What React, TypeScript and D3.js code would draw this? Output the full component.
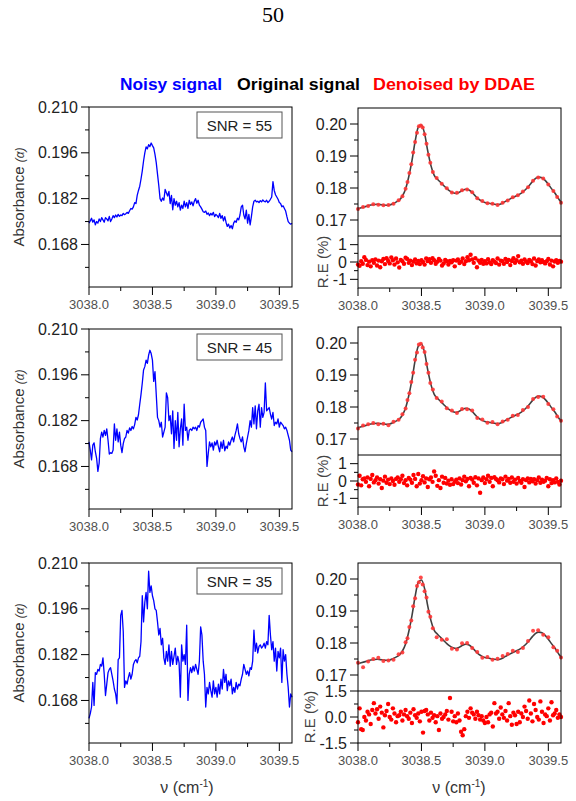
import React from "react";
import * as d3 from "d3";

const FONT = "'Liberation Sans', Arial, Helvetica, sans-serif";

// shared wavenumber axis
const nuRange = [3038.0, 3039.6];
const nuTicks = [3038.0, 3038.5, 3039.0, 3039.5];
const nuMinor = [3038.25, 3038.75, 3039.25];

// left column (noisy signal)
const absDomain = [0.155, 0.21];
const absTicks = [0.168, 0.182, 0.196, 0.21];
const absMinor = [0.161, 0.175, 0.189, 0.203];

// right column (original + denoised, relative error)
const fitDomain = [0.165, 0.205];
const fitTicks = [0.17, 0.18, 0.19, 0.2];
const fitMinor = [0.175, 0.185, 0.195];
const reDomains = [[-1.5, 1.5], [-1.5, 1.5], [-1.5, 1.5]];
const reTicks = [[-1, 0, 1], [-1, 0, 1], [-1.5, 0, 1.5]];
const reMinor = [[-0.5, 0.5], [-0.5, 0.5], [-0.75, 0.75]];
const reFormat = ["d", "d", ".1f"];

const snrLabels = ["SNR = 55", "SNR = 45", "SNR = 35"];
const legendNames = ["Noisy signal", "Original signal", "Denoised by DDAE"];
const legendColors = ["#0000ff", "#000000", "#ff0000"];

// noisy absorbance, sampled every 0.01 cm-1
const noisy55 = [
  0.1745, 0.1752, 0.176, 0.1748, 0.1755, 0.174, 0.175, 0.1745, 0.1758, 0.175, 0.1762,
  0.1755, 0.1748, 0.1762, 0.1758, 0.1752, 0.1766, 0.175, 0.1758, 0.1768, 0.1762,
  0.177, 0.1764, 0.1772, 0.1766, 0.177, 0.1768, 0.1775, 0.1771, 0.1774, 0.1778,
  0.1775, 0.1783, 0.179, 0.1788, 0.1795, 0.1808, 0.1805, 0.183, 0.1845, 0.1858,
  0.188, 0.1905, 0.1935, 0.196, 0.1978, 0.1972, 0.1985, 0.1979, 0.199, 0.1982,
  0.1975, 0.1955, 0.193, 0.1895, 0.186, 0.182, 0.1812, 0.1822, 0.1815, 0.1848,
  0.1838, 0.1828, 0.1842, 0.1805, 0.183, 0.1786, 0.182, 0.18, 0.1812, 0.1795,
  0.1808, 0.1785, 0.18, 0.179, 0.1812, 0.1795, 0.1808, 0.179, 0.1815, 0.1802,
  0.181, 0.1798, 0.1812, 0.182, 0.1806, 0.1815, 0.18, 0.1795, 0.1788, 0.178,
  0.1778, 0.1782, 0.1772, 0.1776, 0.1768, 0.1775, 0.177, 0.1778, 0.1765, 0.1772,
  0.1768, 0.1762, 0.1775, 0.176, 0.1768, 0.1752, 0.1765, 0.1748, 0.1735, 0.1742,
  0.173, 0.1738, 0.1728, 0.1745, 0.1752, 0.1748, 0.176, 0.1755, 0.177, 0.1795,
  0.18, 0.177, 0.1758, 0.1785, 0.1745, 0.1772, 0.174, 0.1765, 0.1795, 0.1812,
  0.1815, 0.181, 0.1812, 0.1808, 0.1814, 0.181, 0.1816, 0.1812, 0.181, 0.1815,
  0.1808, 0.1812, 0.1818, 0.1825, 0.1872, 0.1845, 0.1832, 0.1825, 0.1818, 0.1808,
  0.1805, 0.1795, 0.1798, 0.179, 0.1782, 0.1765, 0.175, 0.1745, 0.1742, 0.1745,
];

const noisy45 = [
  0.1755, 0.173, 0.17, 0.1745, 0.1752, 0.1725, 0.1705, 0.1665, 0.169, 0.1765, 0.1785,
  0.177, 0.179, 0.1775, 0.1795, 0.176, 0.1718, 0.1722, 0.172, 0.173, 0.181,
  0.176, 0.1795, 0.1755, 0.1785, 0.1745, 0.1722, 0.175, 0.1765, 0.177, 0.179,
  0.1782, 0.1798, 0.179, 0.1802, 0.1795, 0.1808, 0.183, 0.1822, 0.1838, 0.187,
  0.19, 0.1935, 0.1975, 0.1985, 0.2005, 0.1995, 0.202, 0.2035, 0.2025, 0.2005,
  0.194, 0.197, 0.19, 0.183, 0.182, 0.18, 0.1815, 0.177, 0.1785, 0.18,
  0.1905, 0.189, 0.182, 0.1835, 0.178, 0.185, 0.1735, 0.182, 0.176, 0.1845,
  0.174, 0.1795, 0.1825, 0.1745, 0.187, 0.179, 0.18, 0.176, 0.179, 0.1795,
  0.179, 0.18, 0.1795, 0.18, 0.179, 0.1805, 0.18, 0.1815, 0.182, 0.1825,
  0.18, 0.179, 0.168, 0.172, 0.1755, 0.174, 0.1752, 0.173, 0.1755, 0.1745,
  0.176, 0.174, 0.1725, 0.1755, 0.1735, 0.176, 0.1728, 0.1742, 0.1735, 0.1755,
  0.1745, 0.176, 0.177, 0.1755, 0.1775, 0.179, 0.181, 0.178, 0.1765, 0.1755,
  0.177, 0.174, 0.1725, 0.175, 0.177, 0.179, 0.182, 0.18, 0.186, 0.181,
  0.1865, 0.1795, 0.185, 0.187, 0.18, 0.186, 0.183, 0.1845, 0.1935, 0.185,
  0.1855, 0.186, 0.184, 0.1825, 0.1845, 0.1805, 0.1815, 0.181, 0.1825, 0.18,
  0.1815, 0.181, 0.1805, 0.1795, 0.18, 0.179, 0.1775, 0.176, 0.173, 0.1725,
];

const noisy35 = [
  0.1625, 0.164, 0.166, 0.1735, 0.1665, 0.1765, 0.176, 0.1775, 0.177, 0.179, 0.1785,
  0.181, 0.176, 0.1695, 0.173, 0.1765, 0.1775, 0.178, 0.176, 0.174, 0.1715,
  0.17, 0.167, 0.1805, 0.181, 0.194, 0.1955, 0.189, 0.172, 0.174, 0.173,
  0.175, 0.1765, 0.1745, 0.176, 0.179, 0.18, 0.1805, 0.1795, 0.181, 0.1815,
  0.186, 0.2, 0.192, 0.198, 0.201, 0.196, 0.2075, 0.201, 0.203, 0.2,
  0.1985, 0.196, 0.1955, 0.192, 0.188, 0.19, 0.185, 0.187, 0.181, 0.179,
  0.183, 0.18, 0.185, 0.1785, 0.183, 0.179, 0.1815, 0.184, 0.179, 0.1815,
  0.1795, 0.169, 0.185, 0.18, 0.182, 0.179, 0.191, 0.168, 0.176, 0.178,
  0.1765, 0.1785, 0.177, 0.179, 0.1775, 0.176, 0.18, 0.1905, 0.188, 0.18,
  0.176, 0.166, 0.172, 0.17, 0.1735, 0.171, 0.169, 0.174, 0.17, 0.172,
  0.169, 0.173, 0.17, 0.1745, 0.1715, 0.1775, 0.1735, 0.176, 0.171, 0.174,
  0.1725, 0.1745, 0.17, 0.172, 0.1705, 0.1735, 0.1715, 0.173, 0.1725, 0.1745,
  0.176, 0.179, 0.1775, 0.176, 0.177, 0.1755, 0.178, 0.1775, 0.18, 0.1895,
  0.183, 0.1855, 0.1825, 0.1845, 0.185, 0.184, 0.1845, 0.1855, 0.184, 0.186,
  0.185, 0.194, 0.188, 0.1835, 0.186, 0.18, 0.184, 0.177, 0.183, 0.181,
  0.184, 0.1735, 0.1835, 0.18, 0.182, 0.176, 0.172, 0.166, 0.17, 0.169,
];

// original (noise free) absorbance, every 0.025 cm-1
const original = [
  0.1735, 0.1738, 0.1741, 0.1744, 0.1747, 0.1748, 0.1749, 0.1748, 0.1747, 0.1746,
  0.1747, 0.1751, 0.1756, 0.1762, 0.1775, 0.1797, 0.1835, 0.1885, 0.1945, 0.199,
  0.1997, 0.197, 0.1915, 0.187, 0.184, 0.1828, 0.1818, 0.1808, 0.1798, 0.179,
  0.1785, 0.1783, 0.1787, 0.1793, 0.1796, 0.1794, 0.1786, 0.1775, 0.1765, 0.1759,
  0.1755, 0.1753, 0.1751, 0.1749, 0.1748, 0.175, 0.1755, 0.1761, 0.1766, 0.1771,
  0.1776, 0.1781, 0.1788, 0.1797, 0.1808, 0.182, 0.183, 0.1834, 0.1832, 0.1824,
  0.1812, 0.1798, 0.1785, 0.177, 0.1755,
];

// DDAE output points (denser on the steep flanks of the main line)
const denoisedNu = [
  3038.0, 3038.04, 3038.08, 3038.12, 3038.16, 3038.2, 3038.24, 3038.28, 3038.32, 3038.35,
  3038.375, 3038.39, 3038.405, 3038.42, 3038.435, 3038.45, 3038.465, 3038.48, 3038.495, 3038.51,
  3038.525, 3038.54, 3038.555, 3038.57, 3038.59, 3038.62, 3038.66, 3038.7, 3038.74, 3038.78,
  3038.82, 3038.86, 3038.9, 3038.94, 3038.98, 3039.02, 3039.06, 3039.1, 3039.14, 3039.18,
  3039.22, 3039.26, 3039.3, 3039.34, 3039.38, 3039.42, 3039.46, 3039.5, 3039.54, 3039.57, 3039.6,
];

const denoised55 = [
  0.1734, 0.1741, 0.1744, 0.1749, 0.1748, 0.1746, 0.1747, 0.1751, 0.1762, 0.1774,
  0.1798, 0.1819, 0.1847, 0.1874, 0.1911, 0.1944, 0.1973, 0.1993, 0.1995, 0.1989,
  0.1968, 0.1938, 0.1904, 0.1879, 0.1850, 0.1831, 0.1813, 0.1799, 0.1786, 0.1785,
  0.1793, 0.1795, 0.1787, 0.1768, 0.1759, 0.1752, 0.1751, 0.1747, 0.1754, 0.1761,
  0.1771, 0.1777, 0.1789, 0.1802, 0.1823, 0.1833, 0.1830, 0.1811, 0.1791, 0.1772, 0.1754,
];

const denoised45 = [
  0.1733, 0.1742, 0.1746, 0.1750, 0.1746, 0.1748, 0.1743, 0.1754, 0.1760, 0.1777,
  0.1795, 0.1822, 0.1843, 0.1878, 0.1907, 0.1948, 0.1970, 0.1995, 0.1998, 0.1986,
  0.1972, 0.1934, 0.1907, 0.1875, 0.1855, 0.1828, 0.1817, 0.1796, 0.1789, 0.1781,
  0.1794, 0.1793, 0.1789, 0.1766, 0.1761, 0.1751, 0.1753, 0.1746, 0.1755, 0.1760,
  0.1773, 0.1775, 0.1791, 0.1800, 0.1825, 0.1831, 0.1832, 0.1809, 0.1793, 0.1770, 0.1757,
];

const denoised35 = [
  0.1738, 0.1724, 0.1742, 0.1750, 0.1754, 0.1744, 0.1745, 0.1748, 0.1765, 0.1770,
  0.1802, 0.1815, 0.1850, 0.1870, 0.1915, 0.1940, 0.1978, 0.1990, 0.2005, 0.1983,
  0.1962, 0.1942, 0.1898, 0.1882, 0.1846, 0.1818, 0.1810, 0.1812, 0.1782, 0.1780,
  0.1799, 0.1800, 0.1784, 0.1772, 0.1754, 0.1756, 0.1748, 0.1751, 0.1759, 0.1766,
  0.1776, 0.1772, 0.1784, 0.1806, 0.1838, 0.1840, 0.1826, 0.1818, 0.1787, 0.1776, 0.1755,
];

// relative error (%), every 0.0125 cm-1
const relErr55 = [
  -0.15, -0.22, 0.05, -0.1, 0.28, 0.12, -0.18, 0.02, -0.25, 0.1, -0.05, 0.15, -0.2, 0.08, -0.3, 0.04,
  0.18, -0.12, 0.22, 0.06, -0.08, 0.26, 0.1, -0.15, 0.2, -0.02, -0.32, 0.12, 0.05, -0.1, 0.25, 0.18,
  -0.05, 0.08, -0.18, 0.02, 0.14, -0.08, 0.06, -0.12, 0.1, 0.0, -0.15, 0.2, 0.05, 0.16, -0.04, 0.22,
  0.1, -0.1, 0.02, 0.18, 0.08, -0.2, -0.08, 0.12, 0.04, -0.14, 0.06, -0.02, 0.1, -0.25, 0.08, 0.15,
  -0.06, 0.02, 0.2, -0.12, 0.05, 0.28, 0.1, 0.42, 0.15, -0.05, 0.22, -0.3, 0.08, -0.04, 0.12, -0.1,
  0.05, -0.08, 0.16, -0.02, -0.12, 0.1, 0.02, -0.06, 0.2, -0.15, 0.08, 0.04, -0.1, 0.18, 0.0, 0.12,
  -0.18, 0.06, 0.22, -0.04, 0.1, 0.34, -0.02, 0.08, -0.1, 0.15, 0.02, -0.06, 0.12, 0.04, -0.12, 0.2,
  -0.2, 0.06, 0.14, -0.02, 0.1, 0.0, -0.08, 0.05, 0.18, -0.14, 0.08, -0.25, 0.03, 0.1, -0.05, 0.06, 0.02,
];

const relErr45 = [
  -0.2, 0.3, -0.25, 0.1, 0.15, -0.05, 0.2, -0.3, 0.12, 0.35, -0.08, 0.05, 0.2, -0.15, 0.1, -0.4,
  0.02, 0.25, -0.1, 0.08, -0.18, 0.15, 0.0, -0.22, 0.12, 0.2, -0.05, 0.1, 0.3, -0.12, 0.05, -0.25,
  0.18, 0.08, -0.1, 0.35, 0.12, -0.3, 0.4, -0.15, 0.05, 0.28, -0.08, 0.15, -0.35, 0.1, 0.2, -0.05,
  0.55, 0.3, -0.28, 0.05, -0.4, 0.25, -0.1, 0.18, -0.15, 0.02, -0.22, 0.1, -0.18, -0.05, 0.08, -0.12,
  0.15, -0.2, 0.05, 0.25, -0.02, 0.12, -0.3, 0.18, 0.08, -0.1, 0.22, -0.25, 0.15, -0.68, 0.05, 0.2,
  -0.12, 0.1, 0.3, -0.05, 0.18, -0.3, 0.22, 0.12, 0.05, -0.08, 0.15, 0.1, -0.18, 0.25, 0.02, 0.12,
  -0.1, 0.2, -0.05, 0.08, -0.15, 0.18, 0.0, -0.1, 0.1, -0.35, 0.05, 0.15, -0.08, 0.12, -0.02, 0.1,
  -0.15, 0.05, 0.2, -0.1, 0.08, -0.05, 0.02, 0.18, -0.3, 0.1, -0.12, 0.05, -0.08, 0.15, -0.05, -0.2, 0.02,
];

const relErr35 = [
  -0.3, 0.5, -0.7, -0.75, 0.0, -0.2, 0.3, 0.15, -0.4, 0.4, 0.8, 0.2, 0.45, -0.1, 0.6, 0.25,
  -0.6, 0.1, 0.35, 0.75, 0.0, -0.15, 0.5, 0.2, -0.3, 0.05, 0.1, 0.3, -0.2, 0.15, 0.4, 0.05,
  -0.1, 0.25, -0.35, 0.45, 0.1, -0.05, 0.2, -0.25, 0.3, -0.9, 0.35, 0.4, 0.15, -0.2, 0.25, -0.05,
  0.1, -0.3, 0.05, -0.75, 0.2, -0.1, 0.0, 0.15, 0.35, -0.15, 1.1, 0.3, -0.25, 0.05, -0.3, 0.2,
  -0.2, -0.85, -1.05, -0.7, 0.05, 0.3, -0.05, 0.5, 0.25, 0.15, -0.1, 0.3, 0.1, -0.15, 0.05, -0.2,
  -0.35, 0.0, -0.3, 0.15, 0.25, -0.55, 0.8, 0.2, 0.3, -0.1, 0.55, 0.15, -0.05, 0.35, -0.2, 0.8,
  0.05, -0.45, 0.25, 0.1, -0.4, 0.3, -0.3, 0.2, 0.0, 0.6, 0.35, -0.1, 0.95, 0.2, -0.25, 0.75,
  0.4, 0.0, -0.15, 0.9, 0.3, -0.35, 0.15, 0.05, 0.5, -0.2, 0.85, 0.1, 0.2, 0.4, -0.05, 0.15, 0.0,
];

const noisySets = [noisy55, noisy45, noisy35];
const denoisedSets = [denoised55, denoised45, denoised35];
const relErrSets = [relErr55, relErr45, relErr35];

// layout
const W = 576;
const H = 801;
const LEFT = [89, 292];
const RIGHT = [358, 561];
const leftTops = [107, 329, 563];
const rightTops = [108, 327, 563];
const PLOT_H = 180;
const FIT_H = 128;

// sample positions along the wavenumber range
const nuAt = (i: number, n: number) => nuRange[0] + (i * (nuRange[1] - nuRange[0])) / (n - 1);

const XAxis = ({ x, bottom }) => (
  <g>
    {nuTicks.map((t) => (
      <g key={t}>
        <line x1={x(t)} x2={x(t)} y1={bottom} y2={bottom + 8} stroke="#000" />
        <text x={x(t)} y={bottom + 22} textAnchor="middle" fontSize={13} fill="#505050" fontFamily={FONT}>
          {d3.format(".1f")(t)}
        </text>
      </g>
    ))}
    {nuMinor.map((t) => (
      <line key={t} x1={x(t)} x2={x(t)} y1={bottom} y2={bottom + 4} stroke="#000" />
    ))}
  </g>
);

const YAxis = ({ y, x0, ticks, minor, fmt }) => (
  <g>
    {ticks.map((t) => (
      <g key={t}>
        <line x1={x0 - 8} x2={x0} y1={y(t)} y2={y(t)} stroke="#000" />
        <text x={x0 - 11} y={y(t) + 5.5} textAnchor="end" fontSize={16} fill="#222" fontFamily={FONT}>
          {fmt(t)}
        </text>
      </g>
    ))}
    {minor.map((t) => (
      <line key={t} x1={x0 - 4} x2={x0} y1={y(t)} y2={y(t)} stroke="#000" />
    ))}
  </g>
);

const XTitle = ({ cx }) => (
  <text x={cx} y={793} textAnchor="middle" fontSize={16} fill="#333" fontFamily={FONT}>
    ν (cm<tspan dy={-6} fontSize={10}>-1</tspan>
    <tspan dy={6}>)</tspan>
  </text>
);

const NoisyPanel = ({ row }) => {
  const top = leftTops[row];
  const bottom = top + PLOT_H;
  const x = d3.scaleLinear().domain(nuRange).range(LEFT);
  const y = d3.scaleLinear().domain(absDomain).range([bottom, top]);
  const series = noisySets[row];
  const line = d3
    .line<number>()
    .x((_, i) => x(nuAt(i, series.length)))
    .y((d) => y(d));
  const cy = (top + bottom) / 2;
  return (
    <g>
      <path d={line(series)} fill="none" stroke="#0000ff" strokeWidth={1.3} strokeLinejoin="round" />
      <rect x={LEFT[0]} y={top} width={LEFT[1] - LEFT[0]} height={PLOT_H} fill="none" stroke="#000" />
      <YAxis y={y} x0={LEFT[0]} ticks={absTicks} minor={absMinor} fmt={d3.format(".3f")} />
      <XAxis x={x} bottom={bottom} />
      {/* SNR box */}
      <rect x={LEFT[1] - 95} y={top + 5} width={85} height={26} fill="#fff" stroke="#555" />
      <text x={LEFT[1] - 52.5} y={top + 23.5} textAnchor="middle" fontSize={15} fill="#222" fontFamily={FONT}>
        {snrLabels[row]}
      </text>
      <text transform={`translate(24,${cy}) rotate(-90)`} textAnchor="middle" fontSize={15} fill="#333" fontFamily={FONT}>
        Absorbance <tspan fontSize={12} fontStyle="italic">(α)</tspan>
      </text>
    </g>
  );
};

const DenoisedPanel = ({ row }) => {
  const top = rightTops[row];
  const mid = top + FIT_H;
  const bottom = top + PLOT_H;
  const x = d3.scaleLinear().domain(nuRange).range(RIGHT);
  const yFit = d3.scaleLinear().domain(fitDomain).range([mid, top]);
  const yRe = d3.scaleLinear().domain(reDomains[row]).range([bottom, mid]);
  const line = d3
    .line<number>()
    .x((_, i) => x(nuAt(i, original.length)))
    .y((d) => yFit(d))
    .curve(d3.curveMonotoneX);
  const dn = denoisedSets[row];
  const re = relErrSets[row];
  const reFmt = reFormat[row] === "d" ? (v: number) => String(v) : (v: number) => v.toFixed(1);
  const reLabelX = row === 2 ? 315 : 328;
  return (
    <g>
      <path d={line(original)} fill="none" stroke="#404040" strokeWidth={1.6} />
      {dn.map((d, i) => (
        <circle key={i} cx={x(denoisedNu[i])} cy={yFit(d)} r={2} fill="#ff3535" fillOpacity={0.9} />
      ))}
      {re.map((d, i) => (
        <circle key={i} cx={x(nuAt(i, re.length))} cy={yRe(d)} r={2.2} fill="#ff0000" />
      ))}
      <rect x={RIGHT[0]} y={top} width={RIGHT[1] - RIGHT[0]} height={PLOT_H} fill="none" stroke="#000" />
      <line x1={RIGHT[0]} x2={RIGHT[1]} y1={mid} y2={mid} stroke="#000" />
      <YAxis y={yFit} x0={RIGHT[0]} ticks={fitTicks} minor={fitMinor} fmt={d3.format(".2f")} />
      <YAxis y={yRe} x0={RIGHT[0]} ticks={reTicks[row]} minor={reMinor[row]} fmt={reFmt} />
      <XAxis x={x} bottom={bottom} />
      <text
        transform={`translate(${reLabelX},${(mid + bottom) / 2}) rotate(-90)`}
        textAnchor="middle"
        fontSize={15}
        fill="#444"
        fontFamily={FONT}
      >
        R.E (%)
      </text>
    </g>
  );
};

export default function App() {
  const legendX = [120, 237, 373];
  const legendW = [102, 123, 162];
  return (
    <svg width={W} height={H} style={{ position: "absolute", left: 0, top: 0, background: "#fff" }}>
      <text x={273} y={22} textAnchor="middle" fontSize={22} fontFamily="'Liberation Serif', 'Times New Roman', serif">
        50
      </text>
      {legendNames.map((name, i) => (
        <text
          key={name}
          x={legendX[i]}
          y={90}
          fontSize={17.2}
          fontWeight="bold"
          fill={legendColors[i]}
          fontFamily={FONT}
          textLength={legendW[i]}
          lengthAdjust="spacingAndGlyphs"
        >
          {name}
        </text>
      ))}
      {[0, 1, 2].map((row) => (
        <g key={row}>
          <NoisyPanel row={row} />
          <DenoisedPanel row={row} />
        </g>
      ))}
      <XTitle cx={187} />
      <XTitle cx={459} />
    </svg>
  );
}
